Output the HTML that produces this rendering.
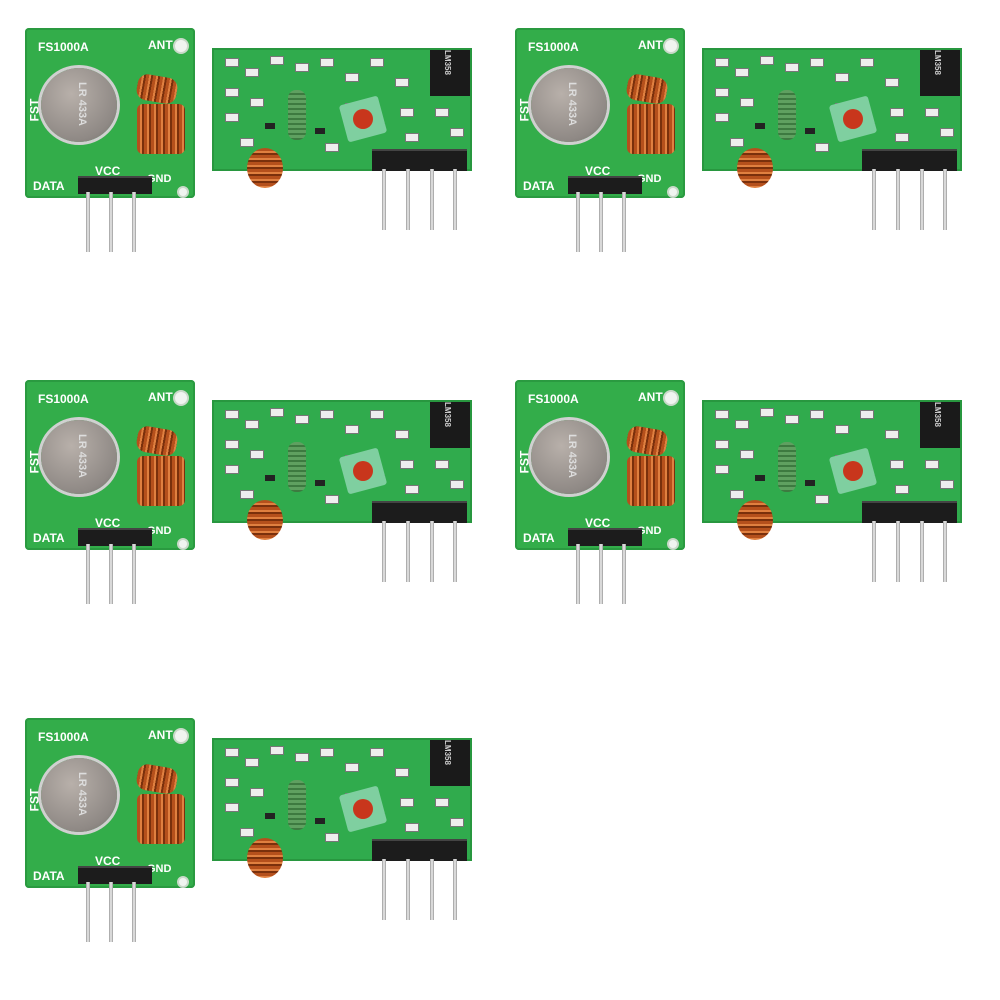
<!DOCTYPE html>
<html><head><meta charset="utf-8"><style>
body{margin:0;width:1000px;height:1000px;background:#fff;position:relative;overflow:hidden;font-family:"Liberation Sans",sans-serif}
.g{position:absolute;width:460px;height:230px}
.g div{position:absolute}
.tx{left:0;top:0;width:170px;height:170px;background:#33ad4a;border-radius:4px;box-shadow:inset 0 0 0 2px #2a9a40}
.rx{left:187px;top:20px;width:260px;height:123px;background:#30ab4d;box-shadow:inset 0 0 0 2px #28973f}
.hole{width:12px;height:12px;border-radius:50%;background:#f0f4f0;border:2px solid #c9d9c9}
.can{left:16px;top:40px;width:76px;height:74px;border-radius:50%;background:radial-gradient(circle at 40% 35%,#b8b0aa,#8f8985 70%,#6f6b68);box-shadow:0 0 0 3px #d0d0d0}
.coil{background:repeating-linear-gradient(90deg,#b5501c 0 3px,#e08040 3px 5px,#7a300c 5px 7px);border-radius:6px}
.coilr{background:repeating-linear-gradient(180deg,#b5501c 0 3px,#e08040 3px 5px,#7a300c 5px 7px)}
.t{color:#fff;font-weight:bold;font-size:11px;white-space:nowrap}
.hdr{background:#1c1c1c;border-top:2px solid #444}
.pin{width:4px;background:linear-gradient(90deg,#999,#eee,#999)}
.smd{width:12px;height:7px;background:#eee;border:1px solid #777}
.blk{width:10px;height:6px;background:#222}
</style></head><body>
<script>
const tpl=`
<div class="tx"></div>
<div class="hole" style="left:148px;top:10px"></div>
<div class="hole" style="left:152px;top:158px;width:8px;height:8px"></div>
<div class="t" style="left:13px;top:12px;font-size:12px">FS1000A</div>
<div class="t" style="left:123px;top:10px;font-size:12px">ANT</div>
<div class="t" style="left:-2px;top:75px;transform:rotate(-90deg);font-size:12px">FST</div>
<div class="can"></div>
<div class="t" style="left:35px;top:70px;color:#ddd;font-size:11px;transform:rotate(90deg)">LR 433A</div>
<div class="coil" style="left:112px;top:48px;width:40px;height:26px;border-radius:10px;transform:rotate(10deg)"></div>
<div class="coil" style="left:112px;top:76px;width:48px;height:50px"></div>
<div class="t" style="left:70px;top:136px;font-size:12px">VCC</div>
<div class="t" style="left:8px;top:151px;font-size:12px">DATA</div>
<div class="t" style="left:122px;top:145px;font-size:11px">GND</div>
<div class="hdr" style="left:53px;top:148px;width:74px;height:16px"></div>
<div class="pin" style="left:61px;top:164px;height:60px"></div>
<div class="pin" style="left:84px;top:164px;height:60px"></div>
<div class="pin" style="left:107px;top:164px;height:60px"></div>
<div class="rx"></div>
<div style="left:405px;top:22px;width:40px;height:46px;background:#1a1a1a"></div>
<div class="t" style="left:410px;top:30px;font-size:8px;color:#ccc;transform:rotate(90deg)">LM358</div>
<div class="smd" style="left:200px;top:30px"></div><div class="smd" style="left:220px;top:40px"></div>
<div class="smd" style="left:245px;top:28px"></div><div class="smd" style="left:270px;top:35px"></div>
<div class="smd" style="left:295px;top:30px"></div><div class="smd" style="left:320px;top:45px"></div>
<div class="smd" style="left:345px;top:30px"></div><div class="smd" style="left:370px;top:50px"></div>
<div class="smd" style="left:200px;top:60px"></div><div class="smd" style="left:200px;top:85px"></div>
<div class="smd" style="left:225px;top:70px"></div><div class="smd" style="left:320px;top:75px"></div>
<div class="smd" style="left:375px;top:80px"></div><div class="smd" style="left:410px;top:80px"></div>
<div class="smd" style="left:425px;top:100px"></div><div class="smd" style="left:380px;top:105px"></div>
<div class="smd" style="left:300px;top:115px"></div><div class="smd" style="left:215px;top:110px"></div>
<div class="blk" style="left:240px;top:95px"></div><div class="blk" style="left:290px;top:100px"></div>
<div class="blk" style="left:350px;top:95px"></div>
<div style="left:263px;top:62px;width:18px;height:50px;border-radius:8px;background:repeating-linear-gradient(180deg,#5fa060 0 3px,#3d7a40 3px 5px)"></div>
<div style="left:318px;top:72px;width:40px;height:38px;background:#7fcfa0;transform:rotate(-15deg);border-radius:3px"></div>
<div style="left:328px;top:81px;width:20px;height:20px;border-radius:50%;background:#c8361c"></div>
<div class="coilr" style="left:222px;top:120px;width:36px;height:40px;border-radius:50%"></div>
<div class="hdr" style="left:347px;top:121px;width:95px;height:20px"></div>
<div class="pin" style="left:357px;top:141px;height:61px"></div>
<div class="pin" style="left:381px;top:141px;height:61px"></div>
<div class="pin" style="left:405px;top:141px;height:61px"></div>
<div class="pin" style="left:428px;top:141px;height:61px"></div>`;
[[25,28],[515,28],[25,380],[515,380],[25,718]].forEach(([x,y])=>{
 const d=document.createElement('div');d.className='g';d.style.left=x+'px';d.style.top=y+'px';d.innerHTML=tpl;document.body.appendChild(d);
});
</script>
</body></html>
